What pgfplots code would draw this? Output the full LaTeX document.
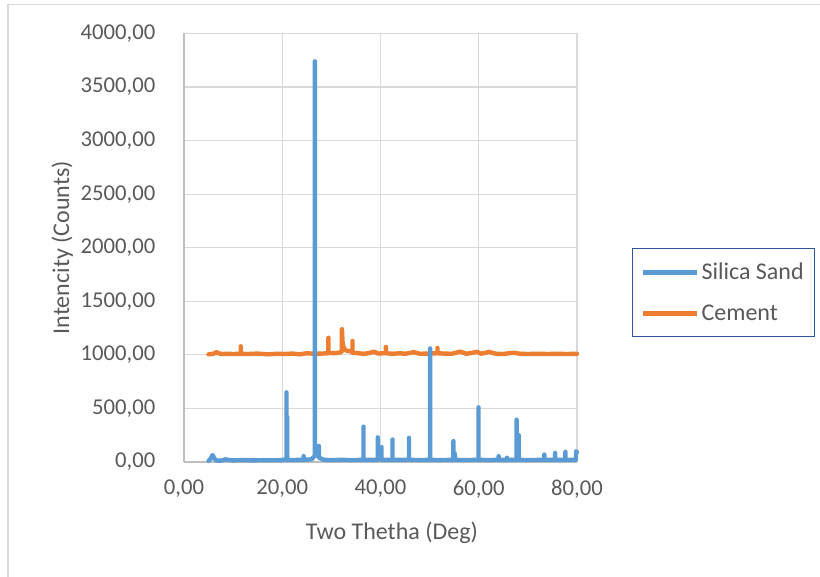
\documentclass[border=0pt]{standalone}
\usepackage{pgfplots}
\pgfplotsset{compat=1.18}
\usepackage{fontspec}
\setmainfont{Carlito}
\definecolor{sand}{HTML}{5B9BD5}
\definecolor{cem}{HTML}{ED7D31}
\definecolor{gridc}{HTML}{D9D9D9}
\definecolor{axc}{HTML}{BFBFBF}
\definecolor{txt}{HTML}{595959}
\definecolor{legb}{HTML}{2F5597}
\begin{document}
\begin{tikzpicture}
\useasboundingbox (0,0) rectangle (615pt,432.75pt);
\draw[gridc, line width=1pt] (6pt,0) -- (6pt,429.4pt) -- (615pt,429.4pt);
\begin{axis}[
  at={(138pt,86.25pt)}, anchor=south west,
  scale only axis, width=294.75pt, height=321.4pt,
  xmin=0, xmax=80, ymin=0, ymax=4000,
  xtick={0,20,40,60,80}, ytick={0,500,...,4000},
  axis lines=left, axis line style={axc, line width=0.8pt, -},
  grid=major, major grid style={gridc, line width=0.8pt},
  major tick length=0pt,
  tick label style={font=\fontsize{17}{19}\selectfont, text=txt},
  /pgf/number format/.cd, fixed, fixed zerofill, precision=2, use comma, 1000 sep={}, assume math mode=true,
  /pgfplots/.cd,
  yticklabel style={xshift=-18pt},
  xticklabel style={yshift=-10pt},
  xlabel={Two Thetha (Deg)}, ylabel={Intencity (Counts)},
  label style={font=\fontsize{18}{20}\selectfont, text=txt},
  xlabel style={at={(axis description cs:0.529,-0.166)}, anchor=center},
  ylabel style={at={(axis description cs:-0.31,0.5)}, anchor=center, rotate=0},
  legend style={at={(axis description cs:1.14,0.4994)}, anchor=north west,
    draw=legb, line width=0.8pt, font=\fontsize{18}{20}\selectfont, text=txt,
    inner xsep=6pt, inner ysep=9pt, row sep=13pt},
  legend cell align=left,
  legend image code/.code={\draw[#1] (0pt,0pt) -- (40.5pt,0pt);},
  clip=false,
]
\addlegendimage{sand, line width=3.3pt}
\addlegendentry{Silica Sand}
\addlegendimage{cem, line width=3.3pt}
\addlegendentry{Cement}

\addplot[cem, line width=3.3pt, line join=round, line cap=round, forget plot] coordinates {
(5.0,1005) (6.0,1010) (6.6,1025) (7.2,1012) (8,1008) (9,1010) (10,1008)
(11.55,1010) (11.55,1080) (11.55,1010) (13,1008) (15,1012) (17,1005) (19,1010)
(20.5,1008) (22,1012) (23.5,1005) (25,1015) (26.6,1010) (28,1012)
(29.4,1015) (29.4,1160) (29.4,1020) (30.5,1015) (31.5,1020) (32.15,1030)
(32.15,1240) (32.3,1100) (32.6,1060) (33.0,1040) (34.3,1030) (34.3,1130) (34.3,1020)
(35.5,1015) (36.5,1010) (37.5,1015) (38.7,1030) (39.5,1012) (40.5,1015)
(41.1,1015) (41.1,1075) (41.1,1015) (42.5,1010) (44,1015) (45,1010) (46.8,1025)
(48,1010) (49.5,1012) (51.6,1015) (51.6,1065) (51.6,1015) (53,1012) (54.5,1010)
(56.2,1030) (57.5,1010) (59.7,1028) (60.5,1010) (62.1,1028) (63.5,1010)
(65,1008) (67,1020) (68.5,1010) (70,1008) (72,1010) (74,1008) (76,1010)
(78,1008) (80,1010)
};
\addplot[sand, line width=3.3pt, line join=round, line cap=round, forget plot] coordinates {
(5.0,10) (5.4,30) (5.8,65) (6.1,40) (6.5,15) (7.5,12) (8.5,25) (9.0,20)
(10,15) (12,18) (14,15) (16,17) (18,16) (20,18) (20.6,25)
(20.86,20) (20.86,650) (20.86,20) (21.0,20) (21.0,420) (21.0,20) (22,18) (23.5,20)
(24.35,20) (24.35,55) (24.35,20) (26.0,25) (26.64,60) (26.64,3740) (26.64,80)
(27.45,60) (27.45,150) (27.45,40) (28.5,20) (30,18) (32,20) (34,18)
(36.55,20) (36.55,330) (36.55,20) (39.45,20) (39.45,230) (39.45,60) (39.9,30)
(40.2,20) (40.2,140) (40.2,20) (42.45,20) (42.45,210) (42.45,20) (45.8,20) (45.8,225)
(45.8,20) (48,18) (50.1,20) (50.1,1060) (50.1,20) (52,18) (54.85,20)
(54.85,195) (54.85,80) (55.1,80) (55.2,20) (57,18) (59.95,20) (59.95,510) (59.95,20) (62,18)
(64.05,20) (64.05,55) (64.05,20) (65.75,20) (65.75,40) (65.75,20) (67.7,20)
(67.7,395) (67.7,120) (68.15,120) (68.15,250) (68.15,20) (70,18) (73.35,20) (73.35,70)
(73.35,20) (75.55,20) (75.55,85) (75.55,20) (77.65,20) (77.65,95) (77.65,20)
(79.8,20) (79.8,100) (80,90)
};
\end{axis}
\end{tikzpicture}
\end{document}
